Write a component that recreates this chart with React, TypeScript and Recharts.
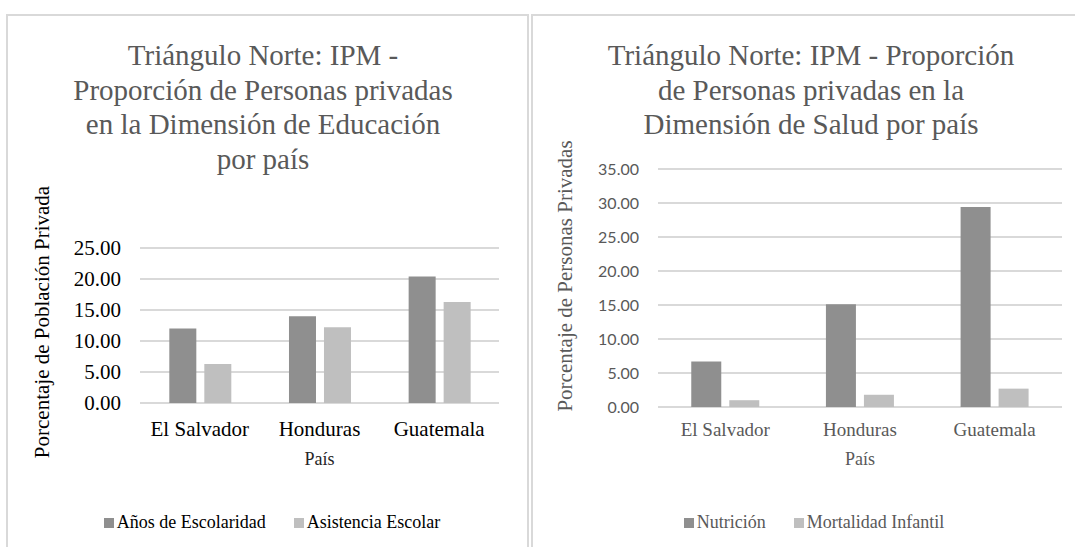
import { BarChart, Bar, XAxis, YAxis, CartesianGrid, Legend } from "recharts";

const countries = ["El Salvador", "Honduras", "Guatemala"];

// Educación
const escolaridad = [12.0, 14.0, 20.4];
const asistencia = [6.3, 12.2, 16.3];
const eduTicks = [0, 5, 10, 15, 20, 25];

// Salud
const nutricion = [6.7, 15.1, 29.4];
const mortalidad = [1.0, 1.8, 2.7];
const saludTicks = [0, 5, 10, 15, 20, 25, 30, 35];

const eduData = countries.map((name, i) => ({
  name,
  escolaridad: escolaridad[i],
  asistencia: asistencia[i],
}));

const saludData = countries.map((name, i) => ({
  name,
  nutricion: nutricion[i],
  mortalidad: mortalidad[i],
}));

const serif = '"Liberation Serif", "Times New Roman", serif';
const sans = 'Lato, "Open Sans", sans-serif';
const dark = "#8F8F8F";
const light = "#BFBFBF";
const grid = "#D9D9D9";
const gray = "#595959";

const fmt = (v: number) => v.toFixed(2);

// legend keeps the series order given here
const makeLegend = (color: string, order: string[]) => (props: any) => {
  const items = [...(props.payload || [])].sort(
    (a: any, b: any) => order.indexOf(a.dataKey) - order.indexOf(b.dataKey)
  );
  return (
    <div
      style={{
        display: "flex",
        justifyContent: "center",
        gap: 28,
        fontFamily: serif,
        fontSize: 18,
        color,
        whiteSpace: "nowrap",
      }}
    >
      {items.map((p: any) => (
        <span key={p.value} style={{ display: "flex", alignItems: "center" }}>
          <span
            style={{
              display: "inline-block",
              width: 10,
              height: 10,
              background: p.color,
              marginRight: 3,
            }}
          />
          {p.value}
        </span>
      ))}
    </div>
  );
};

const titleStyle = {
  position: "absolute" as const,
  width: 500,
  textAlign: "center" as const,
  fontFamily: serif,
  fontSize: 29,
  lineHeight: "34.5px",
  color: gray,
};

const axisTitle = {
  position: "absolute" as const,
  transform: "translate(-50%, -50%) rotate(-90deg)",
  whiteSpace: "nowrap" as const,
  fontFamily: serif,
  fontSize: 21,
};

export default function App() {
  return (
    <div
      style={{
        position: "absolute",
        left: 0,
        top: 0,
        width: 1075,
        height: 547,
        background: "#fff",
        overflow: "hidden",
      }}
    >
      {/* panel frames */}
      <div
        style={{
          position: "absolute",
          left: 6,
          top: 14,
          width: 523,
          height: 600,
          border: `2px solid ${grid}`,
          boxSizing: "border-box",
        }}
      />
      <div
        style={{
          position: "absolute",
          left: 531,
          top: 14,
          width: 600,
          height: 600,
          border: `2px solid ${grid}`,
          boxSizing: "border-box",
        }}
      />

      {/* Educación */}
      <div style={{ ...titleStyle, left: 13, top: 38 }}>
        Triángulo Norte: IPM -<br />
        Proporción de Personas privadas<br />
        en la Dimensión de Educación<br />
        por país
      </div>
      <div style={{ ...axisTitle, left: 42, top: 322, color: "#000" }}>
        Porcentaje de Población Privada
      </div>
      <div style={{ position: "absolute", left: 0, top: 0 }}>
        <BarChart
          width={530}
          height={547}
          data={eduData}
          margin={{ top: 248, right: 31, left: 20, bottom: 80 }}
          barCategoryGap="24.5%"
          barGap={8}
        >
          <CartesianGrid vertical={false} stroke={grid} strokeWidth={2} />
          <XAxis
            dataKey="name"
            height={64}
            axisLine={false}
            tickLine={false}
            tickMargin={12}
            tick={{ fontFamily: serif, fontSize: 21, fill: "#000" }}
            label={{
              value: "País",
              position: "insideBottom",
              offset: 2,
              fill: "#262626",
              fontSize: 18,
              fontFamily: serif,
            }}
          />
          <YAxis
            width={120}
            domain={[0, 25]}
            ticks={eduTicks}
            tickFormatter={fmt}
            axisLine={false}
            tickLine={false}
            tickMargin={13}
            tick={{ fontFamily: serif, fontSize: 21, fill: "#000" }}
          />
          <Legend
            verticalAlign="middle"
            align="center"
            wrapperStyle={{ top: 512, left: 22, width: 500 }}
            content={makeLegend("#000", ["escolaridad", "asistencia"])}
          />
          <Bar dataKey="escolaridad" name="Años de Escolaridad" fill={dark} isAnimationActive={false} />
          <Bar dataKey="asistencia" name="Asistencia Escolar" fill={light} isAnimationActive={false} />
        </BarChart>
      </div>

      {/* Salud */}
      <div style={{ ...titleStyle, left: 561, top: 38 }}>
        Triángulo Norte: IPM - Proporción<br />
        de Personas privadas en la<br />
        Dimensión de Salud por país
      </div>
      <div style={{ ...axisTitle, left: 565, top: 276, color: gray }}>
        Porcentaje de Personas Privadas
      </div>
      <div style={{ position: "absolute", left: 535, top: 0 }}>
        <BarChart
          width={540}
          height={547}
          data={saludData}
          margin={{ top: 169, right: 13, left: 23, bottom: 80 }}
          barCategoryGap="24.7%"
          barGap={8}
        >
          <CartesianGrid vertical={false} stroke={grid} strokeWidth={2} />
          <XAxis
            dataKey="name"
            height={60}
            axisLine={false}
            tickLine={false}
            tickMargin={9.5}
            tick={{ fontFamily: serif, fontSize: 19, fill: gray }}
            label={{
              value: "País",
              position: "insideBottom",
              offset: 2,
              fill: gray,
              fontSize: 18,
              fontFamily: serif,
            }}
          />
          <YAxis
            width={100}
            domain={[0, 35]}
            ticks={saludTicks}
            tickFormatter={fmt}
            axisLine={false}
            tickLine={false}
            tickMargin={13}
            tick={{ fontFamily: sans, fontSize: 16, fill: gray }}
          />
          <Legend
            verticalAlign="middle"
            align="center"
            wrapperStyle={{ top: 512, left: 29, width: 500 }}
            content={makeLegend(gray, ["nutricion", "mortalidad"])}
          />
          <Bar dataKey="nutricion" name="Nutrición" fill={dark} isAnimationActive={false} />
          <Bar dataKey="mortalidad" name="Mortalidad Infantil" fill={light} isAnimationActive={false} />
        </BarChart>
      </div>
    </div>
  );
}
